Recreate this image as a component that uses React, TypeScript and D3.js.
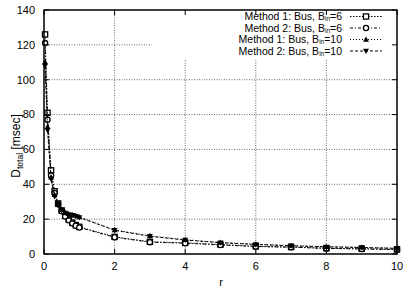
import React from "react";
import * as d3 from "d3";

const rValues = [0.03, 0.1, 0.2, 0.3, 0.4, 0.5, 0.6, 0.7, 0.8, 0.9, 1, 2, 3, 4, 5, 6, 7, 8, 9, 10];
const method1Bin6 = [126, 81, 48, 36, 29, 25, 22, 19.8, 18, 16.6, 15.6, 9.8, 7, 6.4, 5.4, 4.4, 4, 3.3, 3.0, 2.6];
const method2Bin6 = [121, 77, 45, 35, 28.5, 24.5, 21.5, 19.3, 17.6, 16.2, 15.2, 9.6, 6.8, 6.2, 5.2, 4.3, 3.9, 3.2, 2.9, 2.5];
const method1Bin10 = [110, 73, 44, 34, 28.5, 25.5, 23.8, 23, 22.5, 22, 21.2, 13.8, 10.4, 8.2, 6.6, 5.6, 4.8, 4.2, 3.8, 3.3];
const method2Bin10 = [108, 71, 43, 33, 28, 25, 23.5, 22.7, 22.2, 21.7, 21, 13.6, 10.2, 8, 6.5, 5.5, 4.7, 4.1, 3.7, 3.2];
const xTicks = [0, 2, 4, 6, 8, 10];
const yTicks = [0, 20, 40, 60, 80, 100, 120, 140];
const seriesLabels = ["Method 1: Bus, B", "Method 2: Bus, B", "Method 1: Bus, B", "Method 2: Bus, B"];
const seriesBin = ["=6", "=6", "=10", "=10"];

const FONT = "'Liberation Sans', Arial, Helvetica, sans-serif";

type Marker = "square" | "circle" | "triangle" | "itriangle";

function MarkerShape({ type, x, y }: { type: Marker; x: number; y: number }) {
  const s = 2.6;
  if (type === "square")
    return <rect x={x - s} y={y - s} width={2 * s} height={2 * s} fill="white" stroke="black" strokeWidth={1.3} />;
  if (type === "circle") return <circle cx={x} cy={y} r={s} fill="white" stroke="black" strokeWidth={1.3} />;
  if (type === "triangle")
    return <path d={`M${x},${y - 3}L${x + 3},${y + 2.2}L${x - 3},${y + 2.2}Z`} fill="black" />;
  return <path d={`M${x},${y + 3}L${x + 3},${y - 2.2}L${x - 3},${y - 2.2}Z`} fill="black" />;
}

export default function App() {
  const W = 404,
    H = 288;
  const left = 44,
    right = 397,
    top = 10,
    bottom = 254;
  const x = d3.scaleLinear().domain([0, 10]).range([left, right]);
  const y = d3.scaleLinear().domain([0, 140]).range([bottom, top]);

  const series = [
    { data: method1Bin6, dash: "1.5,1.5", marker: "square" as Marker },
    { data: method2Bin6, dash: "3,2,1,2", marker: "circle" as Marker },
    { data: method1Bin10, dash: "1,2", marker: "triangle" as Marker },
    { data: method2Bin10, dash: "3,2", marker: "itriangle" as Marker },
  ];

  const line = d3
    .line<number>()
    .x((_, i) => x(rValues[i]))
    .y((d) => y(d));

  const legendRowY = [20, 31.5, 43, 54.5];

  return (
    <svg width={W} height={H} style={{ position: "absolute", left: 0, top: 0, background: "white" }} fontFamily={FONT}>
      <rect x={0} y={0} width={W} height={H} fill="white" />
      {/* grid */}
      {xTicks.slice(1, -1).map((t) => (
        <line key={"gx" + t} x1={x(t)} x2={x(t)} y1={top} y2={bottom} stroke="#444" strokeWidth={0.8} strokeDasharray="1,1.5" />
      ))}
      {yTicks.slice(1, -1).map((t) => (
        <line key={"gy" + t} x1={left} x2={right} y1={y(t)} y2={y(t)} stroke="#444" strokeWidth={0.8} strokeDasharray="1,1.5" />
      ))}
      {/* legend mask */}
      <rect x={152} y={top + 1} width={right - 152 - 1} height={48} fill="white" />
      {/* series */}
      {series.map((s, i) => (
        <g key={"s" + i}>
          <path d={line(s.data) || ""} fill="none" stroke="black" strokeWidth={1} strokeDasharray={s.dash} />
          {s.data.map((d, j) => (
            <MarkerShape key={j} type={s.marker} x={x(rValues[j])} y={y(d)} />
          ))}
        </g>
      ))}
      {/* frame */}
      <rect x={left} y={top} width={right - left} height={bottom - top} fill="none" stroke="black" strokeWidth={1.5} />
      {/* ticks */}
      {xTicks.map((t) => (
        <g key={"tx" + t}>
          <line x1={x(t)} x2={x(t)} y1={bottom} y2={bottom - 5} stroke="black" strokeWidth={1} />
          <line x1={x(t)} x2={x(t)} y1={top} y2={top + 5} stroke="black" strokeWidth={1} />
          <text x={x(t)} y={270} fontSize={11} textAnchor="middle">
            {t}
          </text>
        </g>
      ))}
      {yTicks.map((t) => (
        <g key={"ty" + t}>
          <line x1={left} x2={left + 5} y1={y(t)} y2={y(t)} stroke="black" strokeWidth={1} />
          <line x1={right} x2={right - 5} y1={y(t)} y2={y(t)} stroke="black" strokeWidth={1} />
          <text x={35} y={y(t) + 3.8} fontSize={11} textAnchor="end">
            {t}
          </text>
        </g>
      ))}
      {/* axis titles */}
      <text x={221} y={286} fontSize={11} textAnchor="middle">
        r
      </text>
      <text transform="translate(20,146) rotate(-90)" fontSize={12} textAnchor="middle">
        D<tspan fontSize={8.5} dy={2.5}>total</tspan>
        <tspan dy={-2.5}> [msec]</tspan>
      </text>
      {/* legend */}
      {series.map((s, i) => (
        <g key={"l" + i}>
          <text x={342} y={legendRowY[i]} fontSize={10.5} textAnchor="end">
            {seriesLabels[i]}
            <tspan fontSize={6.5} dy={1.2}>in</tspan>
            <tspan dy={-1.2}>{seriesBin[i]}</tspan>
          </text>
          <line x1={350} x2={382} y1={legendRowY[i] - 3.5} y2={legendRowY[i] - 3.5} stroke="black" strokeWidth={1} strokeDasharray={s.dash} />
          <MarkerShape type={s.marker} x={366} y={legendRowY[i] - 3.5} />
        </g>
      ))}
    </svg>
  );
}
